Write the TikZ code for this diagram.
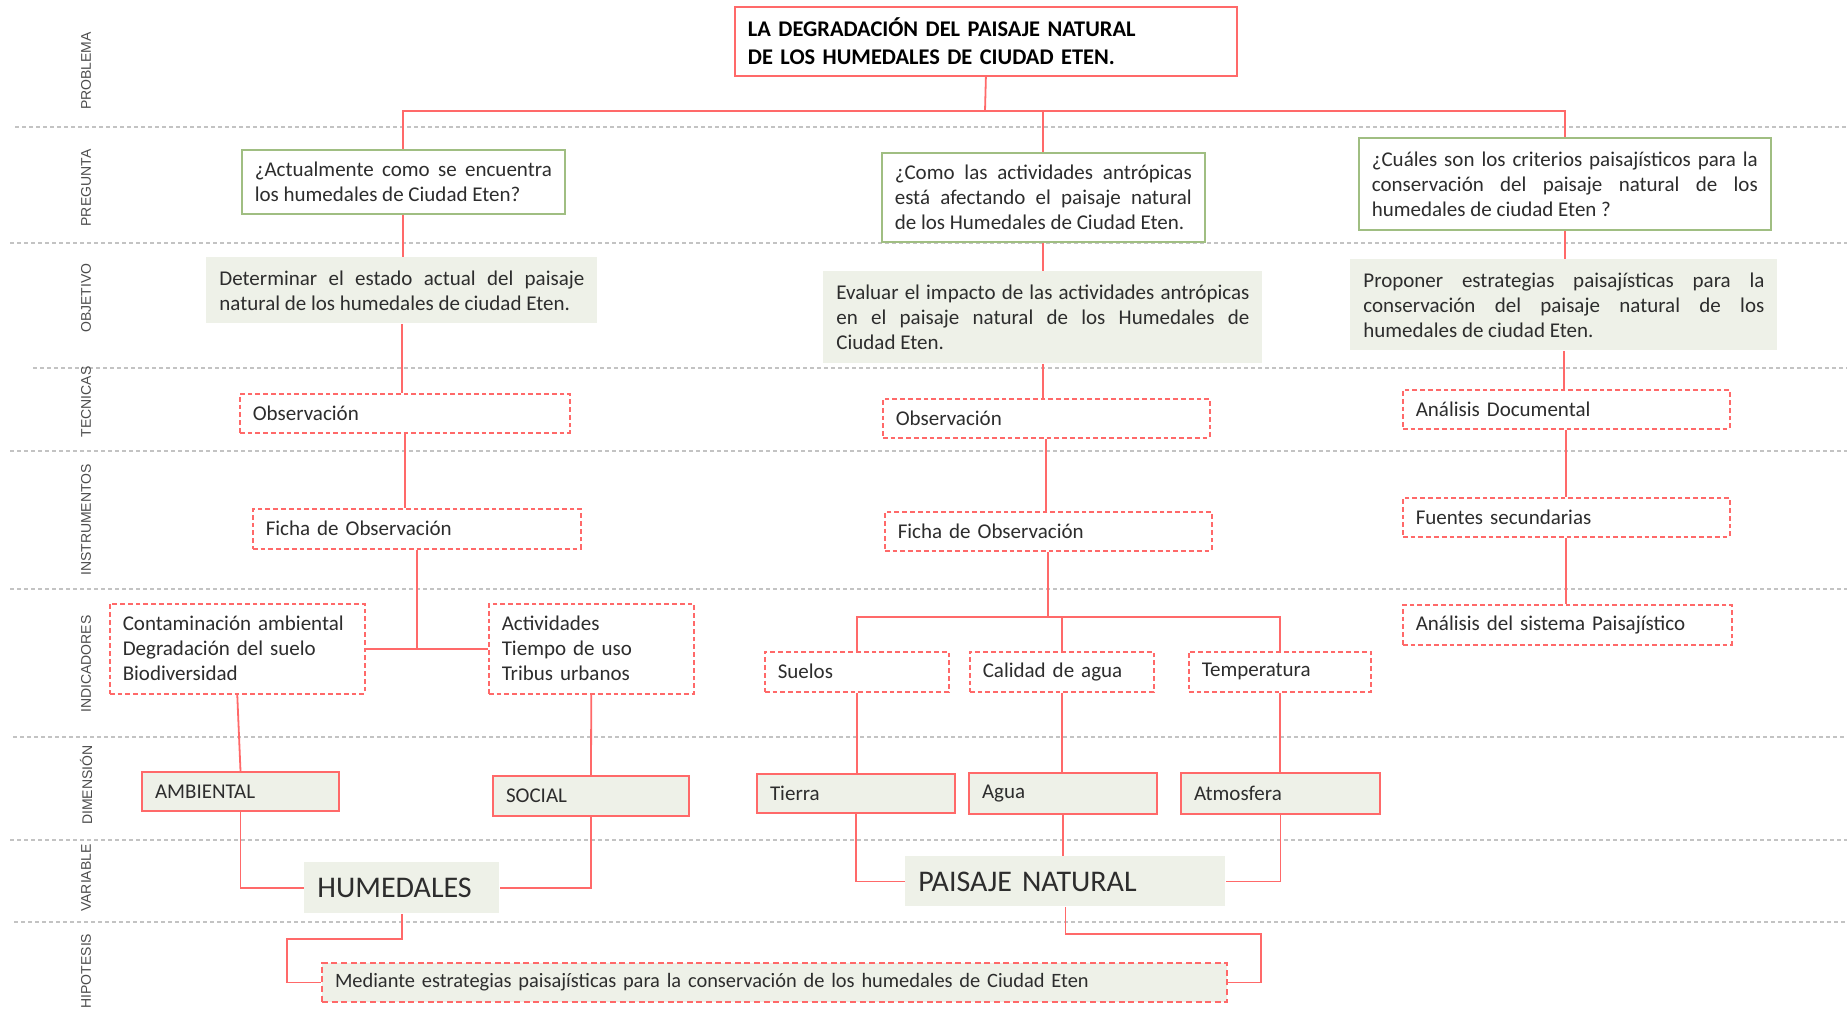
\documentclass[tikz,border=0pt]{standalone}
\usepackage{fontspec}
\setmainfont{Carlito}
\setsansfont{Liberation Sans}
\usepackage{xcolor}
\usepackage{tikz}
\usetikzlibrary{positioning}

\definecolor{linkred}{RGB}{255,105,105}
\definecolor{askgreen}{RGB}{160,190,130}
\definecolor{paleg}{RGB}{238,241,232}
\definecolor{lanegray}{RGB}{195,195,195}
\definecolor{ink}{RGB}{45,45,45}

\begin{document}
\begin{tikzpicture}[x=0.5pt, y=-0.5pt,
    every node/.style={font=\fontsize{10.5}{12.5}\selectfont, text=ink, inner xsep=6.5pt, inner ysep=0pt, anchor=north west},
    boxsize/.style 2 args={minimum width=#1, minimum height=#2, text width=#1-13pt},
    lane/.style={lanegray, line width=0.6pt, dash pattern=on 2pt off 1.5pt},
    rowlabel/.style={rotate=90, anchor=center, inner sep=0pt, font=\sffamily\fontsize{7}{8}\selectfont, text=black!70},
    link/.style={linkred, line width=0.9pt},
    titlebox/.style={draw=linkred, line width=0.9pt, fill=white, align=left, font=\bfseries\fontsize{11.2}{14}\selectfont, text=black},
    askbox/.style={draw=askgreen, line width=0.8pt, fill=white, align=justify},
    aimbox/.style={fill=paleg, align=justify},
    dashbox/.style={draw=linkred, line width=0.75pt, dash pattern=on 2.4pt off 1.5pt, fill=white, align=left},
    dimbox/.style={draw=linkred, line width=1pt, fill=paleg, align=left},
    varbox/.style={fill=paleg, align=left, font=\fontsize{15}{18}\selectfont},
    hypbox/.style={draw=linkred, line width=1pt, dash pattern=on 3pt off 1.8pt, fill=paleg, align=left, font=\fontsize{10.2}{12.5}\selectfont}
  ]
  \useasboundingbox (0,0) rectangle (1847,1009);

  % Dashed lanes between the rows
  \foreach \y/\x in {127/15, 243/10, 368/33, 451/10, 589/10, 737/13, 840/10, 922/14}
    \draw[lane] (\x,\y) -- (1847,\y);

  % Row names on the left
  \foreach \y/\name [count=\i] in {71/PROBLEMA, 188/PREGUNTA, 298/OBJETIVO, 402/TECNICAS, 520/INSTRUMENTOS, 664/INDICADORES, 785/DIMENSIÓN, 878/VARIABLE, 971/HIPOTESIS}
    \node[rowlabel] (row\i) at (86,\y) {\name};

  % Problem
  \node[titlebox, boxsize={251pt}{34.5pt}] (problem) at (734,6) {LA DEGRADACIÓN DEL PAISAJE NATURAL\\DE LOS HUMEDALES DE CIUDAD ETEN.};

  % Questions
  \node[askbox, boxsize={161.5pt}{32pt}] (askA) at (241,149) {¿Actualmente como se encuentra\linebreak los humedales de Ciudad Eten?};
  \node[askbox, boxsize={161.5pt}{44.5pt}] (askB) at (881,152) {¿Como las actividades antrópicas\linebreak está afectando el paisaje natural\linebreak de los Humedales de Ciudad Eten.};
  \node[askbox, boxsize={206pt}{46pt}] (askC) at (1358,137) {¿Cuáles son los criterios paisajísticos para la\linebreak conservación del paisaje natural de los\linebreak humedales de ciudad Eten ?};

  % Objectives
  \node[aimbox, boxsize={195.5pt}{33pt}] (aimA) at (206,257) {Determinar el estado actual del paisaje\linebreak natural de los humedales de ciudad Eten.};
  \node[aimbox, boxsize={219.5pt}{46pt}] (aimB) at (823,271) {Evaluar el impacto de las actividades antrópicas\linebreak en el paisaje natural de los Humedales de\linebreak Ciudad Eten.};
  \node[aimbox, boxsize={213.5pt}{45.5pt}] (aimC) at (1350,259) {Proponer estrategias paisajísticas para la\linebreak conservación del paisaje natural de los\linebreak humedales de ciudad Eten.};

  % Techniques
  \node[dashbox, boxsize={165pt}{19.5pt}] (tecA) at (239,393) {Observación};
  \node[dashbox, boxsize={163.5pt}{19.5pt}] (tecB) at (882,398) {Observación};
  \node[dashbox, boxsize={163.5pt}{19.5pt}] (tecC) at (1402,389) {Análisis Documental};

  % Instruments
  \node[dashbox, boxsize={164pt}{20pt}] (insA) at (252,508) {Ficha de Observación};
  \node[dashbox, boxsize={163.5pt}{19.5pt}] (insB) at (884,511) {Ficha de Observación};
  \node[dashbox, boxsize={163.5pt}{19.5pt}] (insC) at (1402,497) {Fuentes secundarias};

  % Indicators
  \node[dashbox, boxsize={127.5pt}{45pt}] (indA) at (109,603) {Contaminación ambiental\\Degradación del suelo\\Biodiversidad};
  \node[dashbox, boxsize={102.5pt}{45pt}] (indB) at (488,603) {Actividades\\Tiempo de uso\\Tribus urbanos};
  \node[dashbox, boxsize={92pt}{20pt}] (indC) at (764,651) {Suelos};
  \node[dashbox, boxsize={92pt}{20pt}] (indD) at (969,651) {Calidad de agua};
  \node[dashbox, boxsize={91pt}{20pt}] (indE) at (1188,651) {Temperatura};
  \node[dashbox, boxsize={164.5pt}{20pt}] (indF) at (1402,604) {Análisis del sistema Paisajístico};

  % Dimensions
  \node[dimbox, boxsize={98.5pt}{19.5pt}] (dimA) at (141,771) {AMBIENTAL};
  \node[dimbox, boxsize={98pt}{20pt}] (dimB) at (492,775) {SOCIAL};
  \node[dimbox, boxsize={99pt}{19.5pt}] (dimC) at (756,773) {Tierra};
  \node[dimbox, boxsize={94pt}{20.5pt}] (dimD) at (968,772) {Agua};
  \node[dimbox, boxsize={99.5pt}{20.5pt}] (dimE) at (1180,772) {Atmosfera};

  % Variables
  \node[varbox, boxsize={97.5pt}{25.5pt}] (varA) at (304,862) {HUMEDALES};
  \node[varbox, boxsize={160pt}{25pt}] (varB) at (905,856) {PAISAJE NATURAL};

  % Hypothesis
  \node[hypbox, boxsize={452.5pt}{19.5pt}] (hyp) at (321,962) {Mediante estrategias paisajísticas para la conservación de los humedales de Ciudad Eten};

  % Problem to the three questions
  \coordinate (hub) at (985,111);
  \draw[link] (problem.south) -- (hub);
  \draw[link] (hub) -| (askA.north);
  \draw[link] (hub) -| (askB.north);
  \draw[link] (hub) -| (askC.north);

  % Left column
  \draw[link] (askA.south) -- (askA.south |- aimA.north);
  \draw[link] (aimA.south) -- (aimA.south |- tecA.north);
  \draw[link] (tecA.south) -- (tecA.south |- insA.north);
  \draw[link] (insA.south) -- (insA.south |- indA.east);
  \draw[link] (indA.east) -- (indB.west);
  \draw[link] (indA.south) -- (dimA.north);
  \draw[link] (indB.south) -- (dimB.north);
  \draw[link] (dimA.south) |- (varA.west);
  \draw[link] (dimB.south) |- (varA.east);

  % Middle column
  \draw[link] (askB.south) -- (askB.south |- aimB.north);
  \draw[link] (aimB.south) -- (aimB.south |- tecB.north);
  \draw[link] (tecB.south) -- (tecB.south |- insB.north);
  \coordinate (forkB) at (1047,617);
  \draw[link] (insB.south) -- (insB.south |- forkB);
  \draw[link] (indC.north) |- (forkB) -| (indE.north);
  \draw[link] (indD.north) -- (indD.north |- forkB);
  \draw[link] (indC.south) -- (indC.south |- dimC.north);
  \draw[link] (indD.south) -- (indD.south |- dimD.north);
  \draw[link] (indE.south) -- (indE.south |- dimE.north);
  \draw[link] (dimC.south) |- (varB.west);
  \draw[link] (dimD.south) -- (dimD.south |- varB.north);
  \draw[link] (dimE.south) |- (varB.east);

  % Right column
  \draw[link] (askC.south) -- (askC.south |- aimC.north);
  \draw[link] (aimC.south) -- (aimC.south |- tecC.north);
  \draw[link] (tecC.south) -- (tecC.south |- insC.north);
  \draw[link] (insC.south) -- (insC.south |- indF.north);

  % Variables to the hypothesis
  \coordinate (bendA) at (287,939);
  \coordinate (bendB) at (1261,934);
  \draw[link] (varA.south) |- (bendA) |- (hyp.west);
  \draw[link] (varB.south) |- (bendB) |- (hyp.east);
\end{tikzpicture}
\end{document}
